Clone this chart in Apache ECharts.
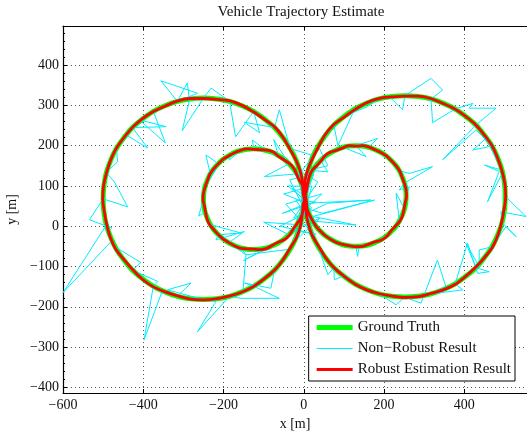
<!DOCTYPE html>
<html><head><meta charset="utf-8">
<script src="https://cdn.jsdelivr.net/npm/echarts@6/dist/echarts.min.js"></script>
<style>html,body{margin:0;padding:0;background:#fff}#c{width:527px;height:432px}</style>
</head><body><div id="c"></div>
<script>
// Ground truth: four loops (x [m], y [m])
const GT_LEFT_BIG = [[0,68],[-2,101],[-9,133],[-19,164],[-34,193],[-52,220],[-73,245],[-98,266],[-125,285],[-154,299],[-185,310],[-217,316],[-250,318],[-283,316],[-315,310],[-346,299],[-375,285],[-402,266],[-427,245],[-448,220],[-467,193],[-481,164],[-492,133],[-498,101],[-500,68],[-498,35],[-492,3],[-481,-28],[-467,-57],[-448,-84],[-427,-109],[-402,-130],[-375,-149],[-346,-163],[-315,-174],[-283,-180],[-250,-182],[-217,-180],[-185,-174],[-154,-163],[-125,-149],[-98,-130],[-73,-109],[-52,-84],[-34,-57],[-19,-28],[-9,3],[-2,35]];
const GT_LEFT_SMALL = [[0,67],[-1,83],[-4,99],[-10,115],[-17,130],[-26,143],[-37,155],[-49,166],[-63,175],[-77,183],[-93,188],[-109,191],[-125,192],[-141,191],[-157,188],[-173,183],[-187,175],[-201,166],[-213,155],[-224,143],[-233,130],[-240,115],[-246,99],[-249,83],[-250,67],[-249,51],[-246,35],[-240,19],[-233,4],[-224,-9],[-213,-21],[-201,-32],[-187,-41],[-173,-48],[-157,-54],[-141,-57],[-125,-58],[-109,-57],[-93,-54],[-77,-48],[-63,-41],[-49,-32],[-37,-21],[-26,-9],[-17,4],[-10,19],[-4,35],[-1,51]];
const GT_RIGHT_BIG = [[2,74],[4,107],[11,139],[21,170],[36,199],[54,226],[75,251],[100,272],[127,291],[156,305],[187,316],[219,322],[252,324],[285,322],[317,316],[348,305],[377,291],[404,272],[429,251],[450,226],[469,199],[483,170],[494,139],[500,107],[502,74],[500,41],[494,9],[483,-22],[469,-51],[450,-78],[429,-103],[404,-124],[377,-143],[348,-157],[317,-168],[285,-174],[252,-176],[219,-174],[187,-168],[156,-157],[127,-143],[100,-124],[75,-103],[54,-78],[36,-51],[21,-22],[11,9],[4,41]];
const GT_RIGHT_SMALL = [[5,75],[6,91],[9,107],[15,123],[22,138],[31,151],[42,163],[54,174],[68,183],[82,190],[98,196],[114,199],[130,200],[146,199],[162,196],[178,190],[193,183],[206,174],[218,163],[229,151],[238,138],[245,123],[251,107],[254,91],[255,75],[254,59],[251,43],[245,27],[238,13],[229,-1],[218,-13],[206,-24],[193,-33],[178,-40],[162,-46],[146,-49],[130,-50],[114,-49],[98,-46],[82,-40],[68,-33],[54,-24],[42,-13],[31,-1],[22,13],[15,27],[9,43],[6,59],[5,75]];

// Robust estimation result
const RB_LEFT_BIG = [[1,67],[-2,102],[-8,134],[-19,163],[-35,192],[-52,221],[-72,246],[-98,265],[-126,284],[-154,300],[-184,311],[-217,315],[-251,317],[-283,317],[-314,311],[-346,298],[-376,284],[-402,267],[-426,246],[-449,219],[-468,192],[-481,165],[-491,134],[-499,100],[-501,67],[-497,36],[-491,4],[-482,-28],[-468,-58],[-447,-84],[-426,-108],[-403,-131],[-376,-150],[-345,-163],[-314,-173],[-283,-181],[-251,-183],[-216,-180],[-184,-173],[-155,-164],[-126,-150],[-97,-129],[-72,-108],[-53,-85],[-35,-56],[-18,-28],[-8,2],[-3,36]];
const RB_LEFT_SMALL = [[1,66],[-2,84],[-3,100],[-11,114],[-18,129],[-25,144],[-36,156],[-50,165],[-64,174],[-76,184],[-92,189],[-110,190],[-126,191],[-140,192],[-156,189],[-174,182],[-188,174],[-200,167],[-212,156],[-225,142],[-234,129],[-239,116],[-245,100],[-250,82],[-251,66],[-248,52],[-245,36],[-241,18],[-234,3],[-223,-10],[-212,-22],[-202,-31],[-188,-40],[-172,-49],[-156,-55],[-142,-56],[-126,-57],[-108,-58],[-92,-55],[-78,-47],[-64,-40],[-48,-33],[-36,-22],[-27,-8],[-18,5],[-9,18],[-3,34],[-2,52]];
const RB_RIGHT_BIG = [[3,73],[3,108],[10,140],[22,169],[37,198],[53,227],[74,252],[101,271],[128,290],[155,306],[186,317],[220,321],[253,323],[284,323],[316,317],[349,304],[378,290],[403,273],[428,252],[451,225],[470,198],[482,171],[493,140],[501,106],[503,73],[499,42],[493,10],[484,-21],[470,-52],[449,-79],[428,-102],[405,-123],[378,-144],[347,-158],[316,-167],[286,-175],[253,-177],[218,-173],[186,-167],[157,-158],[128,-144],[99,-123],[74,-102],[55,-79],[37,-50],[20,-21],[10,10],[5,40]];
const RB_RIGHT_SMALL = [[4,76],[7,90],[10,106],[14,124],[21,139],[32,150],[43,162],[53,175],[67,184],[83,189],[99,195],[113,200],[131,199],[145,200],[161,197],[179,189],[194,182],[205,175],[217,164],[230,150],[239,137],[244,124],[250,108],[255,90],[256,74],[253,60],[250,44],[246,26],[239,12],[228,0],[217,-12],[207,-25],[194,-34],[177,-39],[161,-45],[147,-50],[131,-51],[113,-48],[97,-45],[83,-41],[69,-34],[53,-23],[41,-12],[32,-2],[23,12],[14,28],[8,44],[7,58],[4,76]];

// Non-robust result (noisy path with outliers)
const NR_LEFT_BIG = [[0,68],[-9,133],[25,175],[-34,193],[-61,289],[-73,245],[-148,258],[-110,232],[-125,285],[-170,222],[-185,310],[-231,343],[-250,318],[-303,237],[-285,312],[-290,356],[-315,310],[-356,361],[-265,330],[-375,285],[-345,207],[-410,264],[-343,247],[-427,245],[-389,194],[-440,225],[-467,193],[-464,160],[-492,133],[-472,110],[-439,48],[-500,68],[-534,16],[-478,-5],[-492,3],[-600,-165],[-483,-41],[-464,-55],[-406,-90],[-427,-109],[-364,-137],[-375,-149],[-398,-282],[-353,-162],[-315,-174],[-281,-141],[-340,-158],[-250,-182],[-219,-187],[-265,-262],[-185,-174],[-157,-179],[-61,-179],[-125,-149],[-148,-141],[-82,-154],[-73,-109],[-152,-166],[-144,-71],[-34,-57],[-9,3]];
const NR_LEFT_SMALL = [[0,67],[-40,100],[-4,99],[-17,130],[-98,123],[-37,155],[-75,215],[-63,175],[-93,188],[-128,214],[-125,192],[-157,188],[-185,165],[-187,175],[-213,155],[-244,177],[-233,130],[-219,140],[-246,99],[-250,67],[-262,25],[-246,35],[-233,4],[-156,-17],[-213,-21],[-219,-34],[-148,-13],[-187,-41],[-144,-71],[-157,-54],[-125,-58],[-93,-54],[-150,-85],[-63,-41],[-37,-21],[-100,10],[-17,4],[-4,35]];
const NR_RIGHT_BIG = [[2,74],[11,139],[60,150],[36,199],[75,251],[85,200],[127,291],[118,280],[159,297],[187,316],[213,322],[246,289],[252,324],[317,367],[346,338],[317,316],[321,257],[377,291],[421,305],[412,293],[479,293],[429,251],[346,165],[429,239],[469,199],[421,189],[454,218],[494,139],[450,152],[487,136],[458,61],[495,132],[502,74],[554,24],[491,36],[494,9],[529,-26],[504,-1],[469,-51],[437,-59],[437,-100],[404,-42],[429,-103],[462,-113],[433,-117],[408,-42],[377,-143],[396,-158],[317,-168],[354,-150],[333,-84],[292,-191],[252,-176],[230,-195],[187,-168],[127,-143],[105,-121],[76,-133],[75,-103],[60,-120],[36,-51],[11,9]];
const NR_RIGHT_SMALL = [[5,75],[9,107],[22,138],[60,135],[42,163],[68,183],[98,196],[155,173],[130,200],[184,218],[162,196],[193,183],[218,163],[238,138],[263,131],[321,148],[251,107],[238,90],[263,98],[255,75],[251,43],[230,82],[238,13],[218,-13],[193,-33],[162,-46],[138,-51],[134,-75],[130,-50],[98,-46],[68,-33],[42,-13],[22,13],[130,3],[22,24],[176,65],[47,32],[9,43],[5,75]];
const NR_CENTER = [[5,75],[-30,95],[20,45],[-25,20],[35,110],[-15,140],[10,-5],[-45,55],[45,80],[-10,30],[25,130],[-35,115],[15,15],[-20,65],[30,60],[-53,32],[9,57],[167,65],[59,57],[-60,0],[30,-20],[-30,-10],[40,20],[-15,-30],[20,100],[-50,80],[0,60]];

const X_RANGE = [-600, 606];
const Y_RANGE = [-414, 497];
const TITLE = 'Vehicle Trajectory Estimate';
const NAMES = ['Ground Truth', 'Non\u2212Robust Result', 'Robust Estimation Result'];

const gt = [].concat(GT_LEFT_BIG, GT_LEFT_SMALL, GT_RIGHT_BIG, GT_RIGHT_SMALL);
const rb = [].concat(RB_LEFT_BIG, RB_LEFT_SMALL, RB_RIGHT_BIG, RB_RIGHT_SMALL);
const nr = [].concat(NR_LEFT_BIG, NR_LEFT_SMALL, NR_RIGHT_BIG, NR_RIGHT_SMALL, NR_CENTER);

const FONT = 'Liberation Serif';
const minus = v => String(v).replace('-', '\u2212');
const chart = echarts.init(document.getElementById('c'), null, {renderer: 'canvas'});
const splitLine = {show: true, lineStyle: {color: '#555', type: [1, 3], width: 1}};
chart.setOption({
  animation: false,
  backgroundColor: '#fff',
  title: {text: TITLE, left: 296, top: 0, textAlign: 'center',
    textStyle: {fontFamily: FONT, fontSize: 15, fontWeight: 'normal', color: '#111'}},
  grid: {left: 63, right: -20, top: 26, bottom: 39, show: false, outerBoundsMode: 'none', containLabel: false},
  legend: {
    orient: 'vertical', right: 12, top: 316,
    backgroundColor: '#fff', borderColor: '#000', borderWidth: 1,
    padding: [4, 4, 4, 8], itemGap: 6, itemWidth: 36, itemHeight: 14,
    symbolKeepAspect: true,
    textStyle: {fontFamily: FONT, fontSize: 15, color: '#111'},
    data: [
      {name: NAMES[0], icon: 'path://M0,0H36V5H0Z'},
      {name: NAMES[1], icon: 'path://M0,0H36V1H0Z'},
      {name: NAMES[2], icon: 'path://M0,0H36V2.8H0Z'}
    ]
  },
  xAxis: [{
    type: 'value', min: X_RANGE[0], max: X_RANGE[1], splitNumber: 6, minInterval: 200, maxInterval: 200,
    name: 'x [m]', nameLocation: 'middle', nameGap: 22,
    nameTextStyle: {fontFamily: FONT, fontSize: 14, color: '#111', padding: [0, 20, 0, 0]},
    axisLine: {show: true, onZero: false, lineStyle: {color: '#000', width: 1.2}},
    axisTick: {show: true, inside: true, length: 4, lineStyle: {color: '#000'}},
    axisLabel: {fontFamily: FONT, fontSize: 14, color: '#111', margin: 5, formatter: minus, showMaxLabel: false},
    splitLine: splitLine
  }, {
    type: 'value', position: 'top', min: X_RANGE[0], max: X_RANGE[1], splitNumber: 6, minInterval: 200, maxInterval: 200,
    axisLine: {show: true, onZero: false, lineStyle: {color: '#000', width: 1.2}},
    axisTick: {show: true, inside: true, length: 4, lineStyle: {color: '#000'}},
    axisLabel: {show: false}, splitLine: {show: false}
  }],
  yAxis: [{
    type: 'value', min: Y_RANGE[0], max: Y_RANGE[1], splitNumber: 9, minInterval: 100, maxInterval: 100,
    name: 'y [m]', nameLocation: 'middle', nameGap: 41,
    nameTextStyle: {fontFamily: FONT, fontSize: 14, color: '#111'},
    axisLine: {show: true, onZero: false, lineStyle: {color: '#000', width: 1.2}},
    axisTick: {show: true, inside: true, length: 4, lineStyle: {color: '#000'}},
    minorTick: {show: true, splitNumber: 5, length: 2, lineStyle: {color: '#000'}},
    axisLabel: {fontFamily: FONT, fontSize: 14, color: '#111', margin: 4, formatter: minus, showMinLabel: false, showMaxLabel: false},
    splitLine: splitLine
  }],
  series: [
    {name: NAMES[0], type: 'line', data: gt, smooth: 0.35, symbol: 'none',
     lineStyle: {color: '#00ff00', width: 5, join: 'round'}, itemStyle: {color: '#00ff00'}, z: 2},
    {name: NAMES[1], type: 'line', data: nr, symbol: 'none',
     lineStyle: {color: '#00ecff', width: 1}, itemStyle: {color: '#00ecff'}, z: 3},
    {name: NAMES[2], type: 'line', data: rb, smooth: 0.35, symbol: 'none',
     lineStyle: {color: '#ff0000', width: 2.8, join: 'round'}, itemStyle: {color: '#ff0000'}, z: 4}
  ]
});
</script></body></html>
